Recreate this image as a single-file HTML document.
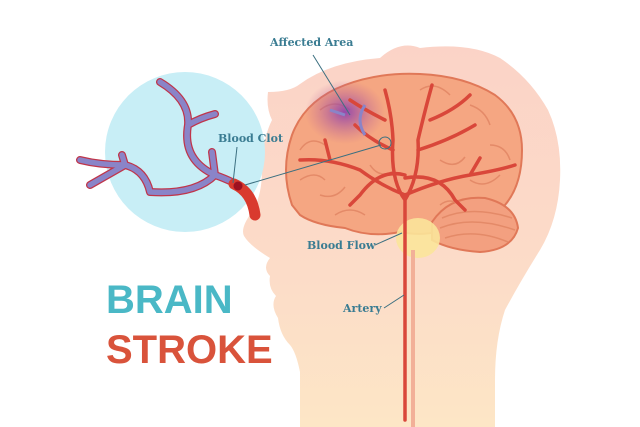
<!DOCTYPE html>
<html><head><style>
html,body{margin:0;padding:0;background:#fff;}
svg{display:block}
text{font-family:"DejaVu Serif","Liberation Serif",serif;font-weight:bold;}
</style></head><body>
<svg width="640" height="427" viewBox="0 0 640 427" xmlns="http://www.w3.org/2000/svg">
<defs>
<linearGradient id="skin" x1="0" y1="0" x2="0" y2="1">
<stop offset="0" stop-color="#fbd3c7"/><stop offset="0.6" stop-color="#fcdcc8"/><stop offset="1" stop-color="#fde6c6"/>
</linearGradient>
<radialGradient id="purp" cx="0.5" cy="0.5" r="0.5">
<stop offset="0" stop-color="#8a3fb0" stop-opacity="0.9"/><stop offset="1" stop-color="#c06090" stop-opacity="0"/>
</radialGradient>
</defs>
<path d="M300,427 L300,372 Q296,352 290,345 Q280,335 278,318 Q270,305 276,296 Q268,288 270,276 Q262,268 270,258 Q250,246 244,236 Q240,228 252,212 Q262,196 262,170 Q262,140 272,120 Q266,108 268,92 Q290,92 300,84 Q330,62 380,58 Q400,40 420,48 Q470,42 500,58 Q530,78 548,110 Q562,140 560,180 Q558,220 540,250 Q520,282 505,310 Q495,340 495,380 L495,427 Z" fill="url(#skin)"/>
<circle cx="185" cy="152" r="80" fill="#c8eef6"/>
<g fill="none" stroke-linecap="round" stroke-linejoin="round">
<path d="M160,82 Q190,100 188,125 Q182,160 215,175 Q235,182 245,190 M188,125 Q200,118 215,114 M215,175 L212,152 M215,175 Q195,195 150,192 Q145,170 125,165 Q100,165 80,160 M125,165 L90,185 M125,165 L122,155" stroke="#c0354a" stroke-width="8"/>
<path d="M160,82 Q190,100 188,125 Q182,160 215,175 Q235,182 245,190 M188,125 Q200,118 215,114 M215,175 L212,152 M215,175 Q195,195 150,192 Q145,170 125,165 Q100,165 80,160 M125,165 L90,185 M125,165 L122,155" stroke="#8a84c8" stroke-width="5.5"/>
<path d="M234,184 Q252,192 255,215" stroke="#d93a2e" stroke-width="11"/>
<circle cx="238" cy="186" r="4.5" fill="#9c1020"/>
</g>
<path d="M292,205 Q280,170 292,135 Q305,100 345,85 Q380,72 420,74 Q465,76 495,95 Q522,115 522,150 Q522,185 505,205 Q490,225 460,225 Q430,238 400,232 Q370,238 345,228 Q315,225 300,215 Z" fill="#f5a682" stroke="#e07858" stroke-width="2"/>
<path d="M432,222 Q450,195 485,198 Q515,205 518,228 Q512,250 480,252 Q450,250 432,240 Z" fill="#f3a080" stroke="#e07858" stroke-width="2"/>
<g fill="none" stroke="#e48a68" stroke-width="1.5">
<path d="M442,218 Q472,205 512,218 M440,228 Q472,215 515,230 M445,238 Q475,228 508,242"/>
<path d="M300,150 q10,-15 25,-5 M320,110 q15,-12 30,0 M420,90 q15,-10 30,5 M470,105 q15,5 20,20 M320,195 q15,5 25,-8 M470,180 q15,10 30,-5 M370,165 q10,15 25,5 M300,180 q15,-10 25,0 M490,145 q15,0 20,15 M440,160 q15,10 25,-3 M335,215 q15,-10 30,0 M440,205 q10,-8 20,0"/>
</g>
<ellipse cx="418" cy="238" rx="22" ry="20" fill="#fbe49a" opacity="0.9"/>
<ellipse cx="345" cy="112" rx="40" ry="32" fill="url(#purp)"/>
<g fill="none" stroke="#d9473a" stroke-linecap="round" stroke-width="3.5">
<path d="M405,420 L405,200 M405,200 Q390,180 393,140 Q392,115 385,90 M405,200 Q420,175 418,140 Q425,110 432,85 M405,195 Q380,185 360,170 Q330,158 300,160 M405,195 Q440,180 470,175 Q500,170 515,165 M393,150 Q370,140 355,125 M418,150 Q450,140 475,125 M405,175 Q380,168 360,195 M405,178 Q440,172 455,200 M430,120 Q455,110 470,95 M385,120 Q365,110 350,100 M330,160 L325,140 M470,175 L480,158 M455,200 L465,210 M360,195 L350,205"/>
</g>
<path d="M413,427 L413,250" stroke="#f2b098" stroke-width="4"/>
<path d="M365,105 Q355,120 365,135 M345,115 L330,110" stroke="#8a84c8" stroke-width="3" fill="none"/>
<circle cx="385" cy="143" r="6" fill="none" stroke="#3b7080" stroke-width="1"/>
<g stroke="#3b6f80" stroke-width="1">
<line x1="313" y1="55" x2="350" y2="115"/>
<line x1="245" y1="185" x2="381" y2="145"/>
<line x1="237" y1="147" x2="233" y2="183"/>
<line x1="375" y1="245" x2="402" y2="233"/>
<line x1="384" y1="308" x2="404" y2="295"/>
</g>
<g fill="#3a7c92" font-size="11">
<text x="270" y="46">Affected Area</text>
<text x="218" y="142">Blood Clot</text>
<text x="307" y="249">Blood Flow</text>
<text x="343" y="312">Artery</text>
</g>
<text x="106" y="313" font-weight="bold" font-size="40" fill="#4ab8c6" style="font-family:'Liberation Sans',sans-serif">BRAIN</text>
<text x="106" y="363" font-weight="bold" font-size="40" fill="#d9533b" style="font-family:'Liberation Sans',sans-serif">STROKE</text>
</svg>
</body></html>
